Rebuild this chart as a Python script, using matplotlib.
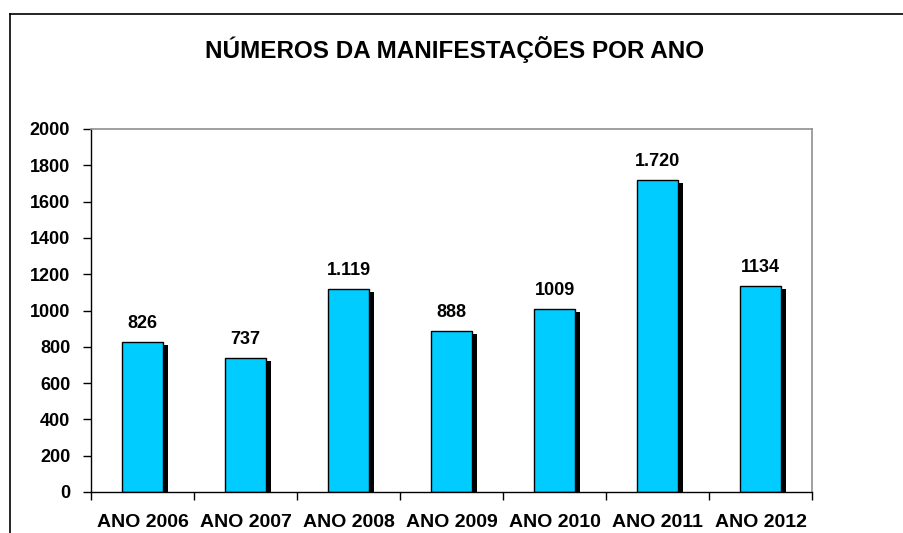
import matplotlib.pyplot as plt
import numpy as np
from matplotlib.lines import Line2D

plt.rcParams['font.family'] = ['Liberation Sans', 'DejaVu Sans']
plt.rcParams['font.weight'] = 'bold'

categories = ["ANO 2006", "ANO 2007", "ANO 2008", "ANO 2009", "ANO 2010", "ANO 2011", "ANO 2012"]
values = [826, 737, 1119, 888, 1009, 1720, 1134]
value_labels = ["826", "737", "1.119", "888", "1009", "1.720", "1134"]

fig = plt.figure(figsize=(9.04, 5.33), dpi=100)
ax = fig.add_axes([91 / 904, 41 / 533, 721 / 904, 363 / 533])

x = np.arange(len(categories))
# black drop shadow, then the cyan bars
ax.bar(x + 0.05, np.array(values) - 16, width=0.4, color="black", zorder=1)
ax.bar(x, values, width=0.4, color="#00CCFF", edgecolor="black", linewidth=1, zorder=2)

for xi, v, lab in zip(x, values, value_labels):
    ax.annotate(lab, (xi, v), xytext=(0, 10), textcoords="offset points",
                ha="center", va="baseline", fontsize=13, fontweight="bold")

ax.set_xlim(-0.5, len(categories) - 0.5)
ax.set_ylim(0, 2000)
ax.set_yticks(range(0, 2001, 200))
ax.set_xticks(x)
ax.set_xticklabels(categories)
ax.set_xticks(np.arange(-0.5, len(categories)), minor=True)
ax.tick_params(axis="x", which="major", length=0, pad=16, labelsize=14)
ax.tick_params(axis="x", which="minor", length=6, width=1, direction="out")
ax.tick_params(axis="y", length=6, width=1, direction="out", pad=9, labelsize=13)

for s in ["top", "right"]:
    ax.spines[s].set_color("#909090")
    ax.spines[s].set_linewidth(1.2)
for s in ["left", "bottom"]:
    ax.spines[s].set_linewidth(1.0)

fig.text(455 / 904, 1 - 58 / 533, "NÚMEROS DA MANIFESTAÇÕES POR ANO",
         ha="center", va="baseline", fontsize=17.5, fontweight="bold")

# outer chart frame (left and top)
fig.add_artist(Line2D([9.5 / 904, 9.5 / 904], [0, 1 - 14 / 533], color="black", lw=1.2,
                      transform=fig.transFigure))
fig.add_artist(Line2D([9.5 / 904, 1], [1 - 14 / 533, 1 - 14 / 533], color="black", lw=1.2,
                      transform=fig.transFigure))

plt.savefig("out.png", dpi=100)
